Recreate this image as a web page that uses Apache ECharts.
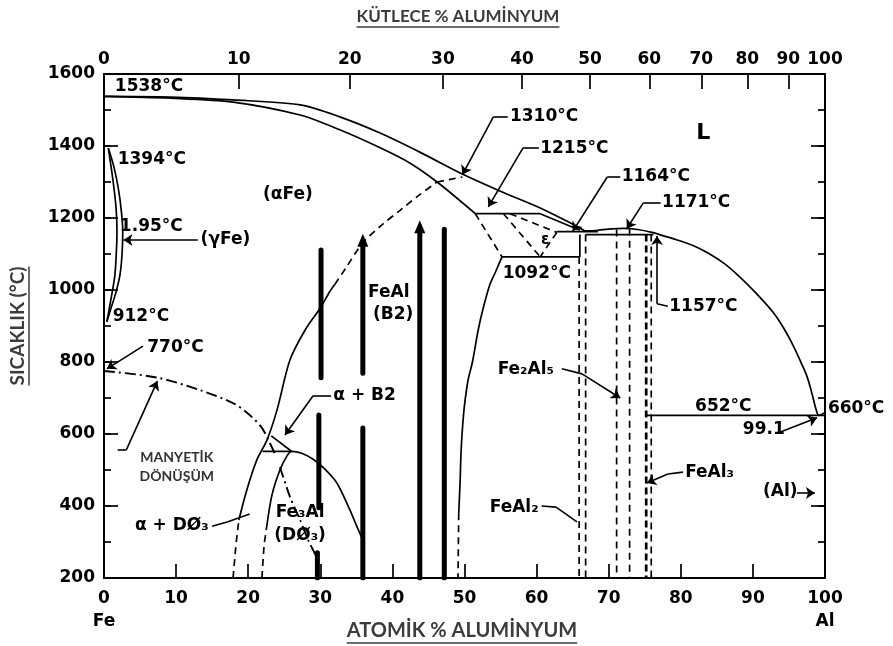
<!DOCTYPE html>
<html>
<head>
<meta charset="UTF-8">
<title>Fe-Al</title>
<script src="https://cdn.jsdelivr.net/npm/echarts@6/dist/echarts.min.js"></script>
<style>html,body{margin:0;background:#fff}#main{width:893px;height:646px}</style>
</head>
<body>
<div id="main"></div>
<script>
// axes
var atLabels = [0,10,20,30,40,50,60,70,80,90,100];
var wtLabels = [0,10,20,30,40,50,60,70,80,90,100];
var tempMin = 200, tempMax = 1600, tempStep = 200, tempMinor = 100;

// Fe side
var liquidusFe = [[0,1538],[9.2,1536],[17.9,1528],[27.2,1514],[32.7,1481],[38.3,1436],[43.8,1383],[49.7,1322],[54.9,1275],[60.5,1228],[65.0,1183],[66.7,1164]];
var solidusFe = [[0,1538],[9.2,1533],[17.9,1522],[27.2,1486],[32.7,1445],[38.3,1395],[42.4,1353],[46.2,1300],[51.5,1212]];
var gammaOuter = [[0.6,1394],[1.4,1340],[2.0,1280],[2.4,1220],[2.6,1160],[2.5,1100],[2.2,1040],[1.6,990],[0.9,945],[0.4,912]];
var gammaInner = [[0.6,1394],[1.0,1340],[1.4,1280],[1.7,1220],[1.8,1160],[1.7,1100],[1.5,1040],[1.1,990],[0.7,945],[0.4,912]];
var magnetic = [[0,775],[7.3,757],[13.3,722],[17.9,686],[20.2,653],[21.9,617],[23.0,575],[23.7,545]];

// A2 / B2 / D03
var a2LowDashed = [[17.9,200],[18.3,292],[18.7,361]];
var a2Solid = [[18.7,361],[19.8,444],[21.2,528],[22.6,583],[24.0,667],[25.8,806],[27.9,889],[30.0,950],[31.3,995],[32.0,1015]];
var b2Ordering = [[32.0,1015],[33.5,1060],[35.9,1131],[38.5,1180],[41.1,1222],[43.6,1262],[46.2,1300]];
var d03LowDashed = [[21.9,200],[22.2,292],[22.6,347]];
var d03Dome = [[22.6,347],[23.3,431],[24.4,500],[25.4,540],[26.0,552],[27.5,546],[29.0,530],[30.5,505],[32.3,464],[34.1,389],[35.1,342],[35.8,310]];
var d03Transition = [[24.4,508],[25.8,425],[27.2,361],[28.3,306],[29.5,258]];
var line552 = [[22.0,552],[26.0,552]];
var triangleSide = [[26.0,552],[23.2,595]];

// FeAl, epsilon, intermetallics
var line1310 = [[46.2,1300],[49.7,1314]];
var b2Eps = [[51.5,1212],[55.2,1092]];
var plateau1215 = [[51.5,1212],[60.5,1212]];
var epsTop = [[60.5,1212],[63.5,1187],[66.0,1166]];
var eps1 = [[55.4,1212],[60.5,1092]];
var eps2 = [[56.3,1212],[62.8,1160]];
var eps3 = [[62.8,1160],[60.5,1092]];
var line1164 = [[62.8,1162],[68.5,1162]];
var line1157 = [[66.8,1154],[76.2,1154]];
var line1092 = [[55.2,1092],[66.0,1092]];
var feAl2Step = [[66.0,1154],[66.0,1092]];
var b2RightSolid = [[55.2,1092],[54.3,1050],[53.5,1014],[52.6,950],[51.9,889],[51.1,800],[50.5,750],[50.0,680],[49.7,611],[49.5,540],[49.4,472],[49.2,380]];
var b2RightDashed = [[49.2,380],[49.1,200]];
var feAl2Left = [[65.9,1092],[65.9,200]];
var feAl2Right = [[66.8,1154],[66.8,200]];
var fe2Al5Left = [[71.1,1168],[71.1,200]];
var fe2Al5Right = [[72.9,1170],[72.9,200]];
var feAl3Left = [[75.2,1154],[75.2,200]];
var feAl3Right = [[75.9,1154],[75.9,200]];
var liquidusAl = [[66.7,1164],[68.5,1166],[70,1169],[72,1171],[74,1168],[76,1160],[77.5,1151],[79.5,1139],[82,1121],[84,1100],[86,1074],[88.2,1036],[90.5,990],[92.8,938],[94.3,893],[95.6,845],[96.6,802],[97.5,760],[98.2,712],[98.7,672],[99.0,654],[99.1,652],[100,660]];
var line652 = [[75.2,652],[100,652]];

// heavy bars
var bar1a = [[30.1,1111],[30.1,756]];
var bar1b = [[29.8,653],[29.8,395]];
var bar1c = [[29.6,270],[29.6,200]];
var bar2a = [[35.9,1135],[35.9,769]];
var bar2b = [[35.9,617],[35.9,200]];
var bar3 = [[43.8,1170],[43.8,200]];
var bar4 = [[47.2,1169],[47.2,200]];
var barTips = [[43.8,1176],[35.9,1138]];

// annotations: [at%, T, text, align]
var textLabels = [
  [1.5,1564,'1538°C','left'],[1.9,1361,'1394°C','left'],[2.2,1175,'1.95°C','left'],
  [13.4,1139,'(γFe)','left'],[1.2,925,'912°C','left'],[6.0,839,'770°C','left'],
  [25.5,1264,'(αFe)','center'],[56.3,1481,'1310°C','left'],[60.5,1394,'1215°C','left'],
  [71.8,1314,'1164°C','left'],[77.4,1242,'1171°C','left'],[78.4,953,'1157°C','left'],
  [55.3,1047,'1092°C','left'],[39.5,992,'FeAl','center'],[40.1,933,'(B2)','center'],
  [31.8,706,'α + B2','left'],[27.2,381,'Fe₃Al','center'],[27.2,319,'(DØ₃)','center'],
  [4.3,347,'α + DØ₃','left'],[53.5,397,'FeAl₂','left'],[54.6,778,'Fe₂Al₅','left'],
  [80.6,494,'FeAl₃','left'],[91.4,439,'(Al)','left'],[85.9,675,'652°C','center'],
  [88.6,611,'99.1','left'],[100.4,672,'660°C','left']
];
var smallLabels = [[61.2,1139,'ε'],[83.1,1436,'L']];
var magLabels = [[10.1,536,'MANYETİK'],[10.1,481,'DÖNÜŞÜM']];
var leaders = [
  [[[56.0,1481],[54.0,1481],[49.7,1320]],true],
  [[[60.3,1394],[58.1,1394],[53.3,1231]],true],
  [[[71.6,1314],[69.8,1314],[65.0,1163]],true],
  [[[77.2,1242],[74.8,1242],[72.5,1170]],true],
  [[[78.2,955],[76.7,962],[76.7,1150]],true],
  [[[93.9,606],[98.9,645]],true],
  [[[13.0,1139],[2.7,1139]],true],
  [[[5.4,844],[0.4,781]],true],
  [[[1.9,556],[3.1,556],[7.4,747]],true],
  [[[31.5,706],[29.0,706],[25.1,597]],true],
  [[[15.0,344],[17.2,356],[20.2,378]],false],
  [[[60.7,400],[62.7,397],[65.6,356]],false],
  [[[63.5,781],[66.3,767],[71.6,700]],true],
  [[[80.3,494],[78.2,489],[75.3,464]],true],
  [[[96.1,436],[98.6,436]],true]
];

var FE_M = 55.845, AL_M = 26.982;
function wtToAt(w) {
  if (w <= 0) return 0;
  if (w >= 100) return 100;
  var a = w / AL_M, f = (100 - w) / FE_M;
  return 100 * a / (a + f);
}
var topPos = wtLabels.map(wtToAt);

var INK = '#000';
var FONT = '"DejaVu Sans", sans-serif';
var FS = 17, FW = 'bold';
var styles = {
  solid: {color: INK, width: 1.7, type: 'solid'},
  dash: {color: INK, width: 1.7, type: [7, 5]},
  dashdot: {color: INK, width: 1.9, type: [11, 4, 2, 4]},
  bold: {color: INK, width: 2.7, type: [7, 4]},
  bar: {color: INK, width: 5, type: 'solid', cap: 'round'}
};
function ln(data, kind, smooth) {
  return {type: 'line', data: data, symbol: 'none', smooth: smooth || false,
    lineStyle: styles[kind], silent: true, animation: false};
}

var series = [
  ln(liquidusFe, 'solid', 0.3), ln(solidusFe, 'solid', 0.3),
  ln(gammaOuter, 'solid', 0.4), ln(gammaInner, 'solid', 0.4),
  ln(magnetic, 'dashdot', 0.3),
  ln(a2LowDashed, 'dash'), ln(a2Solid, 'solid', 0.3), ln(b2Ordering, 'dash', 0.3),
  ln(d03LowDashed, 'dash'), ln(d03Dome, 'solid', 0.3), ln(d03Transition, 'dashdot', 0.2),
  ln(line552, 'solid'), ln(triangleSide, 'solid'),
  ln(line1310, 'dash'), ln(b2Eps, 'dash'), ln(plateau1215, 'solid'), ln(epsTop, 'solid'),
  ln(eps1, 'dash'), ln(eps2, 'dash'), ln(eps3, 'dash'),
  ln(line1164, 'solid'), ln(line1157, 'solid'), ln(line1092, 'solid'), ln(feAl2Step, 'solid'),
  ln(b2RightSolid, 'solid', 0.3), ln(b2RightDashed, 'dash'),
  ln(feAl2Left, 'dash'), ln(feAl2Right, 'dash'), ln(fe2Al5Left, 'dash'), ln(fe2Al5Right, 'dash'),
  ln(feAl3Left, 'bold'), ln(feAl3Right, 'dash'),
  ln(liquidusAl, 'solid', 0.4), ln(line652, 'solid'),
  ln(bar1a, 'bar'), ln(bar1b, 'bar'), ln(bar1c, 'bar'), ln(bar2a, 'bar'), ln(bar2b, 'bar'),
  ln(bar3, 'bar'), ln(bar4, 'bar')
];

series.push({
  type: 'scatter', data: barTips, symbol: 'triangle', symbolSize: [11, 13],
  itemStyle: {color: INK, opacity: 1}, silent: true, animation: false
});

var leaderLines = [];
leaders.forEach(function (l) {
  var pts = l[0];
  for (var i = 0; i < pts.length - 1; i++) {
    var last = i === pts.length - 2;
    leaderLines.push([
      {coord: pts[i], symbol: 'none'},
      {coord: pts[i + 1], symbol: (last && l[1]) ? 'arrow' : 'none'}
    ]);
  }
});
series.push({
  type: 'line', data: [], symbol: 'none', silent: true, animation: false,
  markLine: {
    silent: true, animation: false, symbol: ['none', 'none'], symbolSize: 9,
    label: {show: false}, emphasis: {disabled: true},
    lineStyle: {color: INK, width: 1.6, type: 'solid'},
    data: leaderLines
  }
});

series.push({
  type: 'scatter', symbolSize: 0, silent: true, animation: false, clip: false,
  itemStyle: {opacity: 1},
  data: textLabels.map(function (t) {
    return {value: [t[0], t[1]], name: t[2], label: {align: t[3]}};
  }),
  label: {show: true, position: 'inside', formatter: '{b}', verticalAlign: 'middle',
    fontFamily: FONT, fontSize: FS, fontWeight: FW, color: INK}
});
series.push({
  type: 'scatter', symbolSize: 0, silent: true, animation: false, clip: false,
  itemStyle: {opacity: 1},
  data: smallLabels.map(function (t) {
    return {value: [t[0], t[1]], name: t[2], label: {fontSize: t[2] === 'L' ? 22 : 15}};
  }),
  label: {show: true, position: 'inside', formatter: '{b}', align: 'center', verticalAlign: 'middle',
    fontFamily: FONT, fontWeight: FW, color: INK}
});
series.push({
  type: 'scatter', symbolSize: 0, silent: true, animation: false, clip: false,
  itemStyle: {opacity: 1},
  data: magLabels.map(function (t) { return {value: [t[0], t[1]], name: t[2]}; }),
  label: {show: true, position: 'inside', formatter: '{b}', align: 'center', verticalAlign: 'middle',
    fontFamily: 'Lato', fontWeight: 'bold', fontSize: 14, color: '#333'}
});

function measure(str, font) {
  var c = document.createElement('canvas').getContext('2d');
  c.font = font;
  return c.measureText(str).width;
}
var topTitle = 'KÜTLECE % ALUMİNYUM', botTitle = 'ATOMİK % ALUMİNYUM', leftTitle = 'SICAKLIK (°C)';
var fTop = 'bold 17px Lato', fBot = 'bold 20px Lato', fLeft = 'bold 19px Lato';
var wTop = measure(topTitle, fTop);
var wBot = measure(botTitle, fBot);
var wLeft = measure(leftTitle, fLeft);
var TC = '#3c3c3c';

var axisLine = {show: true, onZero: false, lineStyle: {color: INK, width: 2}};
var tickStyle = {color: INK, width: 1.7};
function tempAxis(pos, step, len, main) {
  return {
    type: 'value', position: pos, min: tempMin, max: tempMax, interval: step,
    axisLine: main ? axisLine : {show: false, onZero: false}, splitLine: {show: false},
    axisTick: {show: true, inside: true, length: len, lineStyle: tickStyle},
    axisLabel: {show: main && pos === 'left', margin: 9, fontFamily: FONT, fontSize: FS, fontWeight: FW, color: INK,
      formatter: function (v) { return String(v); }}
  };
}

var chart = echarts.init(document.getElementById('main'));
chart.setOption({
  backgroundColor: '#fff',
  animation: false,
  grid: {left: 104, right: 68, top: 74, bottom: 68},
  xAxis: [{
    type: 'value', position: 'bottom', min: atLabels[0], max: atLabels[atLabels.length - 1], interval: 10,
    axisLine: axisLine, splitLine: {show: false},
    axisTick: {show: true, inside: true, length: 14, lineStyle: tickStyle},
    axisLabel: {margin: 9, fontFamily: FONT, fontSize: FS, fontWeight: FW, color: INK, lineHeight: 23,
      formatter: function (v) { return v === 0 ? '0\nFe' : v === 100 ? '100\nAl' : String(v); }}
  }, {
    type: 'value', position: 'top', min: 0, max: 100,
    axisLine: axisLine, splitLine: {show: false},
    axisTick: {show: true, inside: true, length: 15, customValues: topPos.slice(1, -1), lineStyle: tickStyle},
    axisLabel: {margin: 6, fontFamily: FONT, fontSize: FS, fontWeight: FW, color: INK, customValues: topPos,
      formatter: function (v) {
        var best = 0;
        for (var i = 0; i < topPos.length; i++) {
          if (Math.abs(topPos[i] - v) < Math.abs(topPos[best] - v)) best = i;
        }
        return String(wtLabels[best]);
      }}
  }],
  yAxis: [
    tempAxis('left', tempStep, 14, true),
    tempAxis('right', tempStep, 14, true),
    tempAxis('left', tempMinor, 7, false),
    tempAxis('right', tempMinor, 7, false)
  ],
  graphic: [
    {type: 'text', x: 458, y: 17, style: {text: topTitle, font: fTop, fill: TC, align: 'center', verticalAlign: 'middle'}},
    {type: 'line', shape: {x1: 458 - wTop / 2, y1: 27, x2: 458 + wTop / 2, y2: 27}, style: {stroke: TC, lineWidth: 1.5}},
    {type: 'text', x: 462, y: 631, style: {text: botTitle, font: fBot, fill: TC, align: 'center', verticalAlign: 'middle'}},
    {type: 'line', shape: {x1: 462 - wBot / 2, y1: 643, x2: 462 + wBot / 2, y2: 643}, style: {stroke: TC, lineWidth: 1.5}},
    {type: 'text', x: 18, y: 326, rotation: Math.PI / 2, style: {text: leftTitle, font: fLeft, fill: TC, align: 'center', verticalAlign: 'middle'}},
    {type: 'line', shape: {x1: 29, y1: 326 - wLeft / 2, x2: 29, y2: 326 + wLeft / 2}, style: {stroke: TC, lineWidth: 1.5}}
  ],
  series: series
});
</script>
</body>
</html>
